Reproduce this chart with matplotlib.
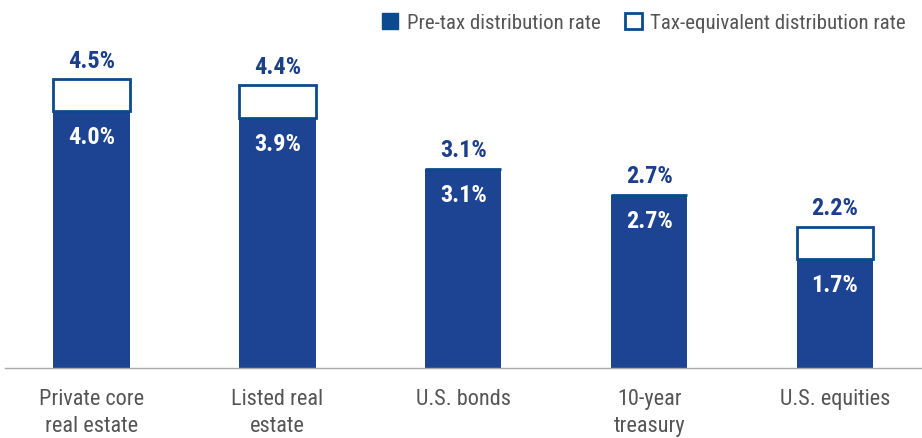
"""Pre-tax vs tax-equivalent distribution rates."""

import matplotlib.pyplot as plt
import numpy as np
from matplotlib.patches import Patch

plt.rcParams["font.family"] = ["Roboto Condensed", "DejaVu Sans"]

categories = ["Private core\nreal estate", "Listed real\nestate", "U.S. bonds", "10-year\ntreasury", "U.S. equities"]
pretax = [4.0, 3.9, 3.1, 2.7, 1.7]
tax_equiv = [4.5, 4.4, 3.1, 2.7, 2.2]

BLUE = "#1d4492"
EDGE = "#0b4a8c"
LABEL = "#1b3f8c"
GREY = "#555555"

fig = plt.figure(figsize=(9.22, 4.38), dpi=100)
ax = fig.add_axes([0.005, 0.16, 0.995, 0.84])

x = np.arange(len(categories))
width = 0.41
extra = [t - p for t, p in zip(tax_equiv, pretax)]
ax.bar(x, pretax, width, color=BLUE, edgecolor=BLUE, linewidth=0)
ax.bar(x, extra, width, bottom=pretax, color="white", edgecolor=EDGE, linewidth=2)

for i in range(len(categories)):
    ax.text(x[i], pretax[i] - 0.24, f"{pretax[i]:.1f}%", ha="center", va="top",
            color="white", fontsize=17.5, fontweight="bold")
    ax.text(x[i], tax_equiv[i] + 0.1, f"{tax_equiv[i]:.1f}%", ha="center", va="bottom",
            color=LABEL, fontsize=17.5, fontweight="bold")

ax.set_xlim(-0.468, 4.468)
ax.set_ylim(0, 5.73)
ax.set_xticks(x)
ax.set_xticklabels(categories, fontsize=16, color=GREY, linespacing=1.4)
ax.tick_params(axis="x", length=0, pad=15)
ax.set_yticks([])
for s in ["top", "right", "left"]:
    ax.spines[s].set_visible(False)
ax.spines["bottom"].set_color("#aaaaaa")
ax.spines["bottom"].set_linewidth(1)

handles = [
    Patch(facecolor=EDGE, edgecolor=EDGE, label="Pre-tax distribution rate"),
    Patch(facecolor="white", edgecolor=EDGE, linewidth=2, label="Tax-equivalent distribution rate"),
]
fig.legend(handles=handles, loc="upper right", bbox_to_anchor=(1.003, 1.012), ncol=2, frameon=False,
           fontsize=15, handlelength=0.8, handleheight=0.8, handletextpad=0.4, columnspacing=1.2,
           labelcolor=GREY)

fig.savefig("out.png", dpi=100)
